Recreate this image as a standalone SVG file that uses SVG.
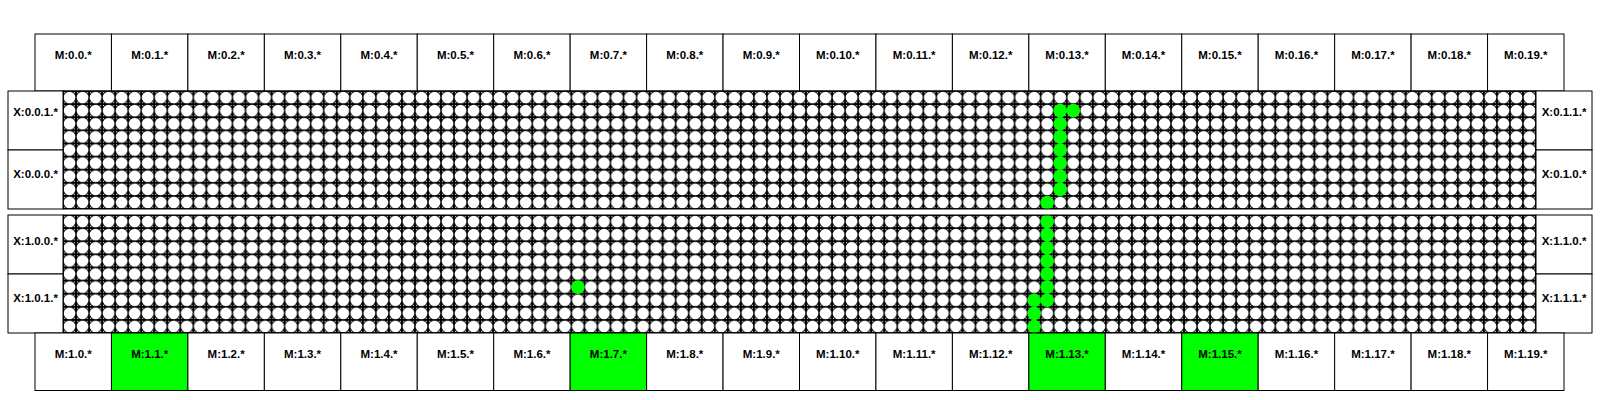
<svg xmlns="http://www.w3.org/2000/svg" width="1600" height="400" viewBox="0 0 1600 400">
<style>
.box{fill:#ffffff;stroke:#000000;stroke-width:1}
.on{fill:#00ff00;stroke:#000000;stroke-width:1}
.lbl{font-family:"Liberation Sans",Arial,sans-serif;font-weight:bold;font-size:11.5px;fill:#000000;text-anchor:middle}
.frame{fill:none;stroke:#000000;stroke-width:1}
.g{fill:#00ff00;stroke:none}
</style>
<defs>
<g id="cell">
<rect x="0" y="0" width="13.0354" height="13.111" fill="#ffffff"/>
<path d="M0 0H13.0354M0 0V13.111M0 13.111H13.0354M13.0354 0V13.111" stroke="#000000" stroke-width="2" fill="none"/>
<circle cx="6.5177" cy="6.5555" r="6.45" fill="#ffffff" stroke="#000000" stroke-width="1"/>
</g>
<pattern id="pu" patternUnits="userSpaceOnUse" x="63" y="91" width="13.0354" height="13.111"><use href="#cell"/></pattern>
<pattern id="pl" patternUnits="userSpaceOnUse" x="63" y="215" width="13.0354" height="13.111"><use href="#cell"/></pattern>
</defs>
<rect width="1600" height="400" fill="#ffffff"/>
<g id="top-row">
<g id="M0-0"><rect class="box" x="35" y="34" width="76.45" height="57"/><text class="lbl" x="73.23" y="59">M:0.0.*</text></g>
<g id="M0-1"><rect class="box" x="111.45" y="34" width="76.45" height="57"/><text class="lbl" x="149.68" y="59">M:0.1.*</text></g>
<g id="M0-2"><rect class="box" x="187.9" y="34" width="76.45" height="57"/><text class="lbl" x="226.13" y="59">M:0.2.*</text></g>
<g id="M0-3"><rect class="box" x="264.35" y="34" width="76.45" height="57"/><text class="lbl" x="302.58" y="59">M:0.3.*</text></g>
<g id="M0-4"><rect class="box" x="340.8" y="34" width="76.45" height="57"/><text class="lbl" x="379.03" y="59">M:0.4.*</text></g>
<g id="M0-5"><rect class="box" x="417.25" y="34" width="76.45" height="57"/><text class="lbl" x="455.48" y="59">M:0.5.*</text></g>
<g id="M0-6"><rect class="box" x="493.7" y="34" width="76.45" height="57"/><text class="lbl" x="531.93" y="59">M:0.6.*</text></g>
<g id="M0-7"><rect class="box" x="570.15" y="34" width="76.45" height="57"/><text class="lbl" x="608.38" y="59">M:0.7.*</text></g>
<g id="M0-8"><rect class="box" x="646.6" y="34" width="76.45" height="57"/><text class="lbl" x="684.83" y="59">M:0.8.*</text></g>
<g id="M0-9"><rect class="box" x="723.05" y="34" width="76.45" height="57"/><text class="lbl" x="761.28" y="59">M:0.9.*</text></g>
<g id="M0-10"><rect class="box" x="799.5" y="34" width="76.45" height="57"/><text class="lbl" x="837.73" y="59">M:0.10.*</text></g>
<g id="M0-11"><rect class="box" x="875.95" y="34" width="76.45" height="57"/><text class="lbl" x="914.18" y="59">M:0.11.*</text></g>
<g id="M0-12"><rect class="box" x="952.4" y="34" width="76.45" height="57"/><text class="lbl" x="990.63" y="59">M:0.12.*</text></g>
<g id="M0-13"><rect class="box" x="1028.85" y="34" width="76.45" height="57"/><text class="lbl" x="1067.08" y="59">M:0.13.*</text></g>
<g id="M0-14"><rect class="box" x="1105.3" y="34" width="76.45" height="57"/><text class="lbl" x="1143.53" y="59">M:0.14.*</text></g>
<g id="M0-15"><rect class="box" x="1181.75" y="34" width="76.45" height="57"/><text class="lbl" x="1219.98" y="59">M:0.15.*</text></g>
<g id="M0-16"><rect class="box" x="1258.2" y="34" width="76.45" height="57"/><text class="lbl" x="1296.43" y="59">M:0.16.*</text></g>
<g id="M0-17"><rect class="box" x="1334.65" y="34" width="76.45" height="57"/><text class="lbl" x="1372.88" y="59">M:0.17.*</text></g>
<g id="M0-18"><rect class="box" x="1411.1" y="34" width="76.45" height="57"/><text class="lbl" x="1449.33" y="59">M:0.18.*</text></g>
<g id="M0-19"><rect class="box" x="1487.55" y="34" width="76.45" height="57"/><text class="lbl" x="1525.78" y="59">M:0.19.*</text></g>
</g>
<g id="upper-block">
<rect x="63" y="91" width="1473" height="118" fill="url(#pu)"/>
<g id="upper-active">
<circle class="g" cx="1060.2" cy="110.67" r="6.8"/>
<circle class="g" cx="1073.24" cy="110.67" r="6.8"/>
<circle class="g" cx="1060.2" cy="123.78" r="6.8"/>
<circle class="g" cx="1060.2" cy="136.89" r="6.8"/>
<circle class="g" cx="1060.2" cy="150" r="6.8"/>
<circle class="g" cx="1060.2" cy="163.11" r="6.8"/>
<circle class="g" cx="1060.2" cy="176.22" r="6.8"/>
<circle class="g" cx="1060.2" cy="189.33" r="6.8"/>
<circle class="g" cx="1047.17" cy="202.44" r="6.8"/>
</g>
<rect class="frame" x="63" y="91" width="1473" height="118"/>
</g>
<g id="X0-0-1"><rect class="box" x="8" y="91" width="55" height="59"/><text class="lbl" x="35.5" y="116">X:0.0.1.*</text></g>
<g id="X0-0-0"><rect class="box" x="8" y="150" width="55" height="59"/><text class="lbl" x="35.5" y="178">X:0.0.0.*</text></g>
<g id="X0-1-1"><rect class="box" x="1536" y="91" width="56" height="59"/><text class="lbl" x="1564" y="116">X:0.1.1.*</text></g>
<g id="X0-1-0"><rect class="box" x="1536" y="150" width="56" height="59"/><text class="lbl" x="1564" y="178">X:0.1.0.*</text></g>
<g id="lower-block">
<rect x="63" y="215" width="1473" height="118" fill="url(#pl)"/>
<g id="lower-active">
<circle class="g" cx="1047.17" cy="221.56" r="6.8"/>
<circle class="g" cx="1047.17" cy="234.67" r="6.8"/>
<circle class="g" cx="1047.17" cy="247.78" r="6.8"/>
<circle class="g" cx="1047.17" cy="260.89" r="6.8"/>
<circle class="g" cx="1047.17" cy="274" r="6.8"/>
<circle class="g" cx="1047.17" cy="287.11" r="6.8"/>
<circle class="g" cx="1047.17" cy="300.22" r="6.8"/>
<circle class="g" cx="1034.14" cy="300.22" r="6.8"/>
<circle class="g" cx="1034.14" cy="313.33" r="6.8"/>
<circle class="g" cx="1034.14" cy="326.44" r="6.8"/>
<circle class="g" cx="577.9" cy="287.11" r="6.8"/>
</g>
<rect class="frame" x="63" y="215" width="1473" height="118"/>
</g>
<g id="X1-0-0"><rect class="box" x="8" y="215" width="55" height="59"/><text class="lbl" x="35.5" y="245">X:1.0.0.*</text></g>
<g id="X1-0-1"><rect class="box" x="8" y="274" width="55" height="59"/><text class="lbl" x="35.5" y="302">X:1.0.1.*</text></g>
<g id="X1-1-0"><rect class="box" x="1536" y="215" width="56" height="59"/><text class="lbl" x="1564" y="245">X:1.1.0.*</text></g>
<g id="X1-1-1"><rect class="box" x="1536" y="274" width="56" height="59"/><text class="lbl" x="1564" y="302">X:1.1.1.*</text></g>
<g id="bottom-row">
<g id="M1-0"><rect class="box" x="35" y="333" width="76.45" height="57.5"/><text class="lbl" x="73.23" y="357.5">M:1.0.*</text></g>
<g id="M1-1"><rect class="on" x="111.45" y="333" width="76.45" height="57.5"/><text class="lbl" x="149.68" y="357.5">M:1.1.*</text></g>
<g id="M1-2"><rect class="box" x="187.9" y="333" width="76.45" height="57.5"/><text class="lbl" x="226.13" y="357.5">M:1.2.*</text></g>
<g id="M1-3"><rect class="box" x="264.35" y="333" width="76.45" height="57.5"/><text class="lbl" x="302.58" y="357.5">M:1.3.*</text></g>
<g id="M1-4"><rect class="box" x="340.8" y="333" width="76.45" height="57.5"/><text class="lbl" x="379.03" y="357.5">M:1.4.*</text></g>
<g id="M1-5"><rect class="box" x="417.25" y="333" width="76.45" height="57.5"/><text class="lbl" x="455.48" y="357.5">M:1.5.*</text></g>
<g id="M1-6"><rect class="box" x="493.7" y="333" width="76.45" height="57.5"/><text class="lbl" x="531.93" y="357.5">M:1.6.*</text></g>
<g id="M1-7"><rect class="on" x="570.15" y="333" width="76.45" height="57.5"/><text class="lbl" x="608.38" y="357.5">M:1.7.*</text></g>
<g id="M1-8"><rect class="box" x="646.6" y="333" width="76.45" height="57.5"/><text class="lbl" x="684.83" y="357.5">M:1.8.*</text></g>
<g id="M1-9"><rect class="box" x="723.05" y="333" width="76.45" height="57.5"/><text class="lbl" x="761.28" y="357.5">M:1.9.*</text></g>
<g id="M1-10"><rect class="box" x="799.5" y="333" width="76.45" height="57.5"/><text class="lbl" x="837.73" y="357.5">M:1.10.*</text></g>
<g id="M1-11"><rect class="box" x="875.95" y="333" width="76.45" height="57.5"/><text class="lbl" x="914.18" y="357.5">M:1.11.*</text></g>
<g id="M1-12"><rect class="box" x="952.4" y="333" width="76.45" height="57.5"/><text class="lbl" x="990.63" y="357.5">M:1.12.*</text></g>
<g id="M1-13"><rect class="on" x="1028.85" y="333" width="76.45" height="57.5"/><text class="lbl" x="1067.08" y="357.5">M:1.13.*</text></g>
<g id="M1-14"><rect class="box" x="1105.3" y="333" width="76.45" height="57.5"/><text class="lbl" x="1143.53" y="357.5">M:1.14.*</text></g>
<g id="M1-15"><rect class="on" x="1181.75" y="333" width="76.45" height="57.5"/><text class="lbl" x="1219.98" y="357.5">M:1.15.*</text></g>
<g id="M1-16"><rect class="box" x="1258.2" y="333" width="76.45" height="57.5"/><text class="lbl" x="1296.43" y="357.5">M:1.16.*</text></g>
<g id="M1-17"><rect class="box" x="1334.65" y="333" width="76.45" height="57.5"/><text class="lbl" x="1372.88" y="357.5">M:1.17.*</text></g>
<g id="M1-18"><rect class="box" x="1411.1" y="333" width="76.45" height="57.5"/><text class="lbl" x="1449.33" y="357.5">M:1.18.*</text></g>
<g id="M1-19"><rect class="box" x="1487.55" y="333" width="76.45" height="57.5"/><text class="lbl" x="1525.78" y="357.5">M:1.19.*</text></g>
</g>
<g id="connectors"/>
</svg>
